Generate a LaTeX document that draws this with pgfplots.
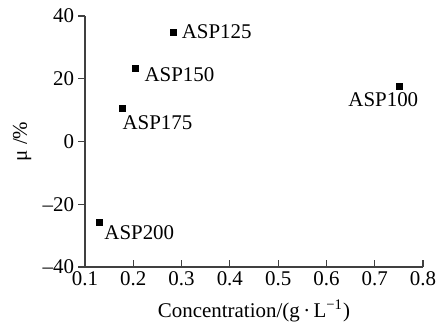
\documentclass[border=0pt]{standalone}
\usepackage{fontspec}
\setmainfont{Liberation Serif}
\usepackage{pgfplots}
\pgfplotsset{compat=1.18}
\begin{document}
\begin{tikzpicture}
\begin{axis}[
  scale only axis,
  width=169bp, height=125.5bp,
  xmin=0.1, xmax=0.8, ymin=-40, ymax=40,
  axis x line*=bottom, axis y line*=left,
  axis line style={black!75, line width=0.6bp},
  xtick={0.1,0.2,0.3,0.4,0.5,0.6,0.7,0.8},
  xticklabels={0.1,0.2,0.3,0.4,0.5,0.6,0.7,0.8},
  ytick={-40,-20,0,20,40},
  yticklabels={–40,–20,0,20,40},
  major tick length=3.3bp,
  tick style={black!75, line width=0.6bp},
  xtick align=inside, ytick align=outside,
  font=\fontsize{10.5}{12}\selectfont,
  tick label style={font=\fontsize{10.5}{12}\selectfont},
  xticklabel style={inner sep=0pt, yshift=-2bp},
  yticklabel style={inner sep=0pt, xshift=-2bp},
  xlabel={Concentration/(g\,·\,L\textsuperscript{−1})},
  ylabel={μ /\%},
  xlabel style={at={(axis description cs:0.5,-0.175)}, anchor=center},
  ylabel style={at={(axis description cs:-0.186,0.5)}, anchor=center},
  clip=false,
  every node near coord/.append style={inner sep=0pt, font=\fontsize{10.5}{12}\selectfont, black},
]
\addplot[only marks, mark=square*, mark size=1.5bp, black,
  nodes near coords={ASP125}, nodes near coords style={anchor=west, xshift=3.8bp, yshift=0bp}]
  coordinates {(0.284,34.9)};
\addplot[only marks, mark=square*, mark size=1.5bp, black,
  nodes near coords={ASP150}, nodes near coords style={anchor=west, xshift=4.5bp, yshift=-3.3bp}]
  coordinates {(0.204,23.4)};
\addplot[only marks, mark=square*, mark size=1.5bp, black,
  nodes near coords={ASP175}, nodes near coords style={anchor=west, xshift=0bp, yshift=-7bp}]
  coordinates {(0.177,10.4)};
\addplot[only marks, mark=square*, mark size=1.5bp, black,
  nodes near coords={ASP100}, nodes near coords style={anchor=center, xshift=-8.25bp, yshift=-7bp}]
  coordinates {(0.752,17.7)};
\addplot[only marks, mark=square*, mark size=1.5bp, black,
  nodes near coords={ASP200}, nodes near coords style={anchor=west, xshift=2.5bp, yshift=-5.5bp}]
  coordinates {(0.129,-25.7)};
\end{axis}
\pgfresetboundingbox
\path ([shift={(-42.5bp,-28bp)}]current axis.south west) rectangle ([shift={(12bp,8bp)}]current axis.north east);
\end{tikzpicture}
\end{document}
